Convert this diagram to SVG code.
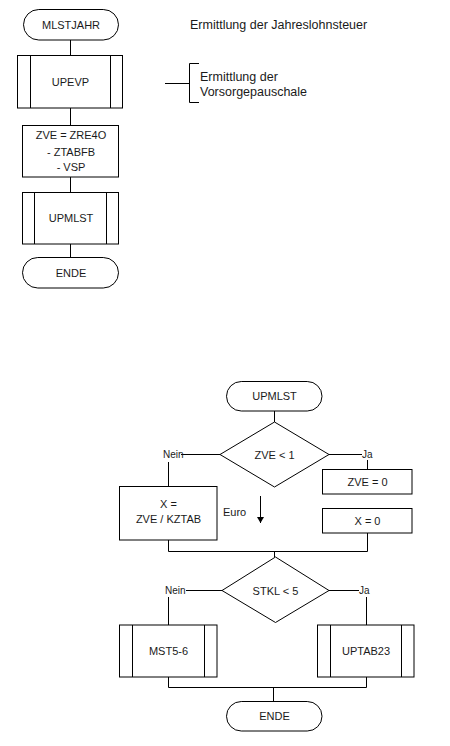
<svg xmlns="http://www.w3.org/2000/svg" width="450" height="746" viewBox="0 0 450 746">
<style>
.s{fill:#fff;stroke:#000;stroke-width:1}
.l{fill:none;stroke:#000;stroke-width:1}
text{font-family:"Liberation Sans",Arial,sans-serif;font-size:11px;fill:#1a1a1a}
.c{text-anchor:middle}
.big{font-size:12.5px}
.sm{font-size:10px}
</style>
<defs>
<marker id="ah" markerWidth="8" markerHeight="8" refX="7" refY="4" orient="auto" markerUnits="userSpaceOnUse">
<path d="M1,0.5 L7,4 L1,7.5 Z" fill="#000"/>
</marker>
</defs>
<rect width="450" height="746" fill="#fff"/>
<g id="connectors">
<path class="l" d="M70.5,40 V55.5"/>
<path class="l" d="M70.5,108 V125.5"/>
<path class="l" d="M70.5,177 V192.5"/>
<path class="l" d="M70.5,244 V257"/>
<path class="l" d="M165,83.5 H189.5 M199,63.5 H189.5 V102.5 H199"/>
<path class="l" d="M274.5,411 V422"/>
<path class="l" d="M220,454.5 H181"/>
<path class="l" d="M168.5,462 V486.5"/>
<path class="l" d="M329,454.5 H362"/>
<path class="l" d="M367.5,460 V469.5"/>
<path class="l" d="M168.5,540 V551.5 H367.5 V533"/>
<path class="l" d="M274.5,551.5 V557"/>
<path class="l" d="M222,590.5 H186"/>
<path class="l" d="M168.5,597 V625"/>
<path class="l" d="M329,590.5 H359"/>
<path class="l" d="M366.5,597 V625"/>
<path class="l" d="M168.5,677 V687.5 H366.5 V677"/>
<path class="l" d="M273.5,687.5 V701"/>
<path class="l" d="M260.5,496 V523" marker-end="url(#ah)"/>
</g>
<g id="n-mlstjahr">
<rect class="s" x="23.5" y="9.5" width="95" height="30.5" rx="15.25"/>
<text class="c" x="71" y="28.5">MLSTJAHR</text>
</g>
<g id="n-title">
<text class="big" x="190" y="29">Ermittlung der Jahreslohnsteuer</text>
</g>
<g id="n-upevp">
<rect class="s" x="17.5" y="55.5" width="105" height="52.5"/>
<path class="l" d="M30.5,55.5 V108 M110.5,55.5 V108"/>
<text class="c" x="70.5" y="86">UPEVP</text>
</g>
<g id="n-note">
<text class="big" x="200" y="80.5">Ermittlung der</text>
<text class="big" x="200" y="95.5">Vorsorgepauschale</text>
</g>
<g id="n-zve">
<rect class="s" x="22.5" y="125.5" width="96" height="51.5"/>
<text class="c" x="71" y="139">ZVE = ZRE4O</text>
<text class="c" x="71" y="156">- ZTABFB</text>
<text class="c" x="71" y="171">- VSP</text>
</g>
<g id="n-upmlst">
<rect class="s" x="22.5" y="192.5" width="96" height="51.5"/>
<path class="l" d="M34.5,192.5 V244 M106.5,192.5 V244"/>
<text class="c" x="71" y="222">UPMLST</text>
</g>
<g id="n-ende1">
<rect class="s" x="22.5" y="257.5" width="96" height="30.5" rx="15.25"/>
<text class="c" x="71" y="276.5">ENDE</text>
</g>
<g id="n-upmlst2">
<rect class="s" x="226.5" y="381.5" width="95.5" height="29.5" rx="14.75"/>
<text class="c" x="274.5" y="400">UPMLST</text>
</g>
<g id="n-d1">
<path class="s" d="M274.5,422 L329,454.5 L274.5,487 L220,454.5 Z"/>
<text class="c" x="274.5" y="458.5">ZVE &lt; 1</text>
</g>
<g id="n-nein1"><text class="sm" x="163" y="458">Nein</text></g>
<g id="n-ja1"><text class="sm" x="362" y="458">Ja</text></g>
<g id="n-x1">
<rect class="s" x="119.5" y="486.5" width="97.5" height="53.5"/>
<text class="c" x="168.5" y="508">X =</text>
<text class="c" x="168.5" y="522.5">ZVE / KZTAB</text>
</g>
<g id="n-euro"><text x="223" y="516">Euro</text></g>
<g id="n-zve0">
<rect class="s" x="322.5" y="469.5" width="89.5" height="24.5"/>
<text class="c" x="367.5" y="486">ZVE = 0</text>
</g>
<g id="n-x0">
<rect class="s" x="322.5" y="508.5" width="89.5" height="24.5"/>
<text class="c" x="367.5" y="525">X = 0</text>
</g>
<g id="n-d2">
<path class="s" d="M275.5,557 L329,590.5 L275.5,622.5 L222,590.5 Z"/>
<text class="c" x="275.5" y="594.5">STKL &lt; 5</text>
</g>
<g id="n-nein2"><text class="sm" x="165" y="594">Nein</text></g>
<g id="n-ja2"><text class="sm" x="359" y="594">Ja</text></g>
<g id="n-mst">
<rect class="s" x="119.5" y="625" width="97.5" height="52"/>
<path class="l" d="M132.5,625 V677 M204.5,625 V677"/>
<text class="c" x="168.5" y="655">MST5-6</text>
</g>
<g id="n-uptab">
<rect class="s" x="317.5" y="625" width="96.5" height="52"/>
<path class="l" d="M330.5,625 V677 M401.5,625 V677"/>
<text class="c" x="366" y="655">UPTAB23</text>
</g>
<g id="n-ende2">
<rect class="s" x="226.5" y="701.5" width="95.5" height="29.5" rx="14.75"/>
<text class="c" x="274.5" y="720">ENDE</text>
</g>
</svg>
